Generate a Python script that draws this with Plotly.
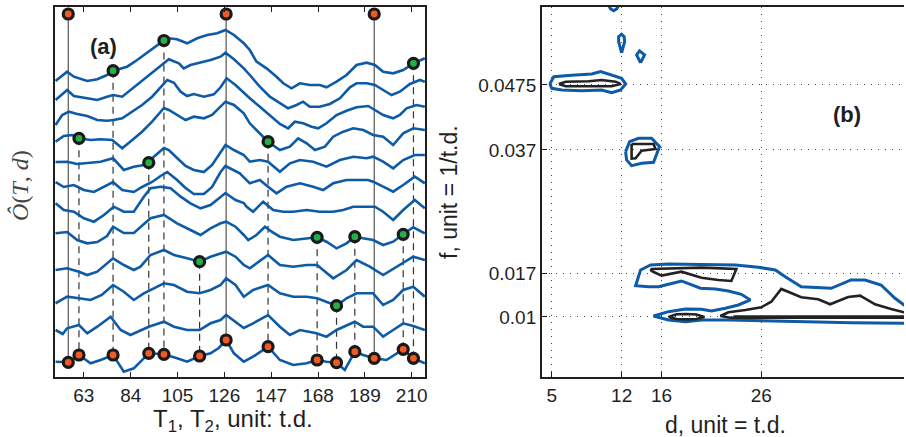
import plotly.graph_objects as go

# ---------------- panel (a): stacked series (T in t.d., V arbitrary units) ----------------
C1_T = [50.3, 55.5, 58.5, 64.5, 69.0, 73.4, 76.1, 82.4, 86.9, 92.9, 98.9, 101.1, 104.8, 109.3, 113.8, 118.3, 122.8, 126.5, 130.3, 134.7, 137.4, 140.4, 144.9, 149.4, 152.4, 156.1, 159.9, 164.3, 168.8, 171.8, 176.3, 180.8, 185.3, 189.8, 193.5, 197.2, 201.7, 206.2, 210.8, 215.9]
C1_V = [296, 305.3, 300.3, 296, 297.7, 302, 306.3, 310.3, 317, 327, 336.5, 338.7, 337.7, 333.7, 338.7, 342, 343.7, 347, 342, 333.7, 327, 315.3, 308.7, 300.3, 293.7, 288.7, 293.7, 292, 292, 289.7, 295.3, 302, 312, 314.3, 312, 305.3, 303.7, 307, 313.7, 318.7]

C2_T = [50.3, 55.5, 58.5, 64.5, 69.0, 73.4, 76.1, 80.2, 85.4, 91.4, 97.4, 101.1, 105.6, 107.8, 110.8, 115.3, 119.8, 124.3, 126.5, 130.3, 134.7, 137.4, 141.9, 146.4, 150.9, 154.6, 158.4, 161.3, 164.3, 168.8, 173.3, 177.8, 182.3, 185.3, 189.8, 193.5, 197.2, 201.0, 204.7, 209.2, 213.7, 215.9]
C2_V = [277, 287, 281, 278.7, 277, 280.3, 282, 280.3, 289.7, 301, 311, 317.7, 313.7, 308.7, 312, 314.3, 317, 320.3, 324.3, 317.7, 308.7, 302, 290.3, 280.3, 273.7, 268.7, 272, 275.3, 270.3, 270.3, 273, 278.7, 289.7, 293.7, 293.7, 292, 287, 282, 285.3, 293, 297, 295.3]

C3_T = [50.3, 53.3, 56.3, 60.0, 64.5, 69.0, 73.4, 76.4, 80.2, 84.7, 89.1, 93.6, 97.4, 100.4, 103.4, 106.4, 109.3, 112.3, 116.8, 121.3, 124.3, 127.0, 131.0, 134.7, 137.4, 141.9, 146.4, 150.9, 154.6, 157.6, 161.3, 165.1, 168.1, 171.8, 176.3, 180.8, 185.3, 190.5, 193.5, 197.2, 201.7, 204.7, 207.7, 212.2, 215.9]
C3_V = [252, 262, 265.3, 263, 261, 257, 256.3, 257, 258.7, 265.3, 272, 280.3, 289.7, 297, 294.3, 285.3, 281, 283, 280.3, 282.7, 289.7, 298.7, 292, 283.7, 278.7, 270.3, 262, 253, 248.7, 255.3, 253.7, 250.3, 248.7, 253.7, 262, 266.3, 269.7, 271, 267, 262, 258.7, 262, 268.7, 272, 270.3]

C4_T = [50.3, 54.0, 57.8, 60.8, 66.0, 70.5, 75.7, 80.2, 84.7, 89.1, 93.6, 98.9, 101.1, 104.8, 108.6, 112.3, 116.8, 120.5, 124.3, 126.5, 130.3, 134.7, 137.4, 141.9, 145.6, 150.9, 155.4, 159.1, 162.9, 166.6, 171.1, 174.8, 179.3, 183.8, 188.3, 192.7, 197.2, 201.7, 206.2, 210.7, 215.9]
C4_V = [235.3, 241, 242, 238.7, 237, 237.7, 237, 228.7, 237, 245.3, 255.3, 269, 267, 262, 257, 260.3, 258.7, 262, 270.3, 275.3, 272, 263.7, 253.7, 243.7, 235.3, 227, 230.3, 238.7, 233.7, 227, 230.3, 240.3, 245.3, 248.7, 247, 242, 240.3, 232, 243.7, 248.7, 247]

C5_T = [50.3, 55.5, 60.0, 64.5, 70.5, 76.1, 80.9, 85.4, 89.9, 92.1, 94.4, 98.9, 101.1, 104.8, 108.6, 112.3, 116.8, 120.5, 124.3, 126.5, 130.3, 134.7, 137.4, 141.9, 145.6, 150.9, 155.4, 159.9, 165.8, 171.8, 177.8, 183.8, 189.8, 192.7, 197.2, 201.7, 206.2, 211.4, 215.9]
C5_V = [215, 215.3, 213, 213.7, 215.3, 218.7, 207, 210.3, 212, 214.3, 220.3, 229, 227, 219, 211, 207, 205, 212, 225, 232, 227, 222, 215.3, 217, 215.3, 205.3, 213.7, 217, 215.3, 210.3, 217, 220.3, 218.7, 220.3, 215.3, 208.7, 217, 222, 222]

C6_T = [50.3, 54.0, 58.5, 63.0, 67.5, 72.0, 76.1, 80.2, 85.4, 89.1, 93.6, 97.4, 100.4, 104.8, 108.6, 112.3, 116.8, 120.5, 124.3, 126.5, 130.3, 132.9, 137.4, 141.9, 145.6, 149.4, 153.9, 159.9, 165.8, 170.3, 174.8, 180.8, 190.5, 192.7, 197.2, 201.7, 206.2, 211.4, 215.9]
C6_V = [195, 190, 192, 187, 185, 190, 195, 187, 185, 190, 195, 201, 205, 197, 189, 183, 183, 190, 205, 211, 207, 203.7, 193.7, 197, 190.3, 183.7, 190.3, 193.7, 190.3, 187, 193.7, 197, 197, 195.3, 190.3, 185.3, 192, 200.3, 193.7]

C7_T = [50.3, 54.0, 58.5, 63.0, 67.5, 72.0, 76.4, 80.9, 85.4, 89.9, 92.9, 97.4, 101.9, 106.4, 110.8, 115.3, 119.8, 124.3, 126.5, 131.0, 134.7, 136.0, 138.9, 143.4, 147.9, 152.4, 156.9, 162.9, 168.8, 174.8, 179.3, 183.8, 189.8, 193.5, 197.2, 201.7, 206.2, 211.4, 215.9]
C7_V = [173.7, 167, 165.3, 158.7, 155.3, 162, 170.3, 165.3, 165.3, 180.3, 188.7, 190.3, 188.7, 180.3, 173.7, 168.7, 172, 180.3, 184, 177, 174, 170.3, 165.3, 175.3, 167, 165.3, 165.3, 167, 165.3, 165.3, 167, 170.3, 170.3, 170.3, 165.3, 157, 167, 177, 168.7]

C8_T = [50.3, 55.5, 60.0, 64.5, 69.0, 73.4, 76.1, 80.9, 85.4, 89.1, 92.9, 98.9, 104.8, 110.8, 115.3, 119.8, 124.3, 126.8, 131.0, 134.7, 136.7, 140.4, 144.2, 147.2, 150.9, 156.9, 162.9, 167.6, 171.8, 176.3, 180.8, 184.5, 188.2, 192.7, 197.2, 201.7, 206.2, 210.7, 215.9]
C8_V = [143.7, 145, 137, 133.7, 135, 141, 150.3, 144, 144, 151, 158.7, 162, 153.7, 147, 142, 148.7, 153.7, 155.3, 150.3, 142, 137, 142, 150.3, 145.3, 140.3, 137, 138.7, 139.7, 135.3, 128.7, 133.7, 140.3, 138.7, 137, 132, 135.3, 142.7, 149.7, 143.7]

C9_T = [50.3, 55.5, 60.8, 64.5, 69.0, 76.1, 80.9, 85.4, 88.4, 92.9, 98.9, 103.4, 109.3, 114.9, 119.8, 126.8, 131.0, 134.7, 137.4, 145.6, 150.9, 156.9, 162.9, 167.6, 174.8, 180.8, 185.3, 191.2, 197.2, 203.2, 210.7, 215.9]
C9_V = [107, 108.7, 105.3, 102, 105.3, 118.7, 112, 107, 110.3, 122, 127, 122, 118.7, 115.3, 120.3, 125.3, 120.3, 112, 108.7, 122, 112, 110.3, 112, 112, 98.7, 107, 117, 110.3, 102, 110.3, 120.3, 117]

C10_T = [50.3, 55.5, 60.8, 66.0, 71.0, 76.1, 80.9, 85.4, 89.9, 92.9, 98.9, 103.4, 109.3, 114.9, 119.8, 124.3, 126.8, 131.0, 134.7, 138.9, 145.6, 150.9, 156.9, 162.9, 167.6, 176.3, 180.8, 185.3, 192.7, 197.2, 201.7, 206.2, 210.7, 215.9]
C10_V = [73.7, 80.3, 78.7, 77, 82, 92, 85.3, 77, 83.7, 87, 93.7, 92, 85.3, 83.7, 87, 92, 98.7, 92, 80.3, 87, 92, 83.7, 80.3, 80.3, 78.7, 71.3, 78.7, 83.7, 83.7, 72, 77, 87, 90.3, 80.3]

C11_T = [50.3, 53.5, 55.5, 60.8, 64.5, 69.0, 75.0, 79.5, 83.9, 88.4, 92.1, 98.9, 103.4, 109.3, 114.9, 119.8, 124.3, 126.8, 131.0, 134.7, 138.9, 145.6, 150.9, 155.4, 159.9, 167.3, 171.8, 176.3, 184.5, 188.2, 192.7, 197.2, 201.7, 206.2, 210.7, 215.9]
C11_V = [47, 43, 48.7, 52, 43.7, 50.3, 60.3, 47, 42, 47, 50.3, 55.3, 50.3, 47, 47, 53.7, 57, 62, 55, 49, 53.7, 62, 50.3, 42, 47, 43.7, 40.3, 47, 55.3, 50.3, 50.3, 40.3, 47, 53.7, 51, 47]

C12_T = [50.3, 56.0, 60.8, 66.0, 70.5, 76.1, 80.9, 85.4, 92.1, 98.9, 104.8, 109.3, 114.9, 119.8, 123.5, 126.8, 130.3, 134.7, 138.9, 145.6, 150.9, 156.9, 162.9, 167.6, 171.8, 176.3, 180.0, 184.5, 188.2, 193.2, 198.7, 206.2, 210.8, 215.9]
C12_V = [15.3, 14.7, 22, 13.7, 17, 22, 5.3, 8.7, 23.7, 22.7, 18.7, 15.3, 21, 23.7, 29, 37, 23.7, 15.3, 20.3, 30.3, 17, 12, 13.7, 17, 15.3, 14.3, 7, 25.3, 22, 18.7, 17, 27.7, 18.7, 13.7]

CURVES = [(C1_T, C1_V), (C2_T, C2_V), (C3_T, C3_V), (C4_T, C4_V), (C5_T, C5_V), (C6_T, C6_V),
          (C7_T, C7_V), (C8_T, C8_V), (C9_T, C9_V), (C10_T, C10_V), (C11_T, C11_V), (C12_T, C12_V)]

# detected times (markers on the bottom series)
ORANGE_T = [56.0, 60.8, 76.1, 92.1, 98.9, 114.9, 126.8, 145.6, 167.6, 176.3, 184.5, 193.2, 206.2, 210.8]
ORANGE_V = [14.7, 22, 22, 23.7, 22.7, 21, 37, 30.3, 17, 14.3, 25.3, 18.7, 27.7, 18.7]
# T1 (solid) times, marked at the top
TOP_T = [56.0, 126.8, 193.2]
TOP_V = [363, 363, 363]
# T2 (dashed) times, marked on the series where they appear
GREEN_T = [60.8, 76.1, 92.1, 98.9, 114.9, 145.6, 167.6, 176.3, 184.5, 206.2, 210.8]
GREEN_V = [238.7, 306.3, 214.3, 336.5, 115.3, 235.3, 139.7, 71.3, 140.3, 142.7, 313.7]

# ---------------- panel (b): contour paths (d, f) ----------------
BLUE_CAP_D = [10.6, 10.9, 11.2, 11.5, 11.8]
BLUE_CAP_F = [0.0606, 0.0598, 0.0595, 0.0598, 0.0606]
BLUE_DROP1_D = [12.0, 11.7, 11.7, 12.0, 12.25, 12.3, 12.0]
BLUE_DROP1_F = [0.0527, 0.0545, 0.0553, 0.0557, 0.0553, 0.0545, 0.0527]
BLUE_DROP2_D = [13.9, 13.5, 13.8, 14.3, 13.9]
BLUE_DROP2_F = [0.0511, 0.05235, 0.0530, 0.05235, 0.0511]
BLUE_A_D = [4.8, 5.2, 7.0, 9.0, 9.9, 11.0, 12.0, 12.4, 11.9, 11.0, 10.0, 8.0, 6.0, 5.0, 4.8]
BLUE_A_F = [0.04766, 0.04884, 0.04907, 0.04928, 0.04965, 0.04911, 0.04858, 0.04766, 0.04669, 0.04625, 0.04669, 0.04658, 0.04669, 0.04696, 0.04766]
BLACK_A_D = [5.7, 6.4, 8.7, 10.0, 11.4, 11.9, 11.0, 8.7, 6.4, 5.7]
BLACK_A_F = [0.04766, 0.04803, 0.0481, 0.04831, 0.04803, 0.04766, 0.04729, 0.04729, 0.04729, 0.04766]
BLUE_B_D = [12.4, 12.8, 13.7, 15.0, 15.8, 15.2, 14.0, 13.0, 12.5, 12.4]
BLUE_B_F = [0.03672, 0.03833, 0.03888, 0.03888, 0.03753, 0.0350, 0.03484, 0.03446, 0.03538, 0.03672]
BLACK_B_D = [13.0, 15.2, 15.4, 14.0, 13.4, 13.0, 13.0]
BLACK_B_F = [0.03796, 0.03796, 0.03715, 0.03688, 0.03565, 0.03559, 0.03796]
BLUE_C_D = [41.0, 40.3, 35.0, 28.4, 22.7, 20.0, 18.4, 16.7, 15.2, 16.7, 18.4, 20.0, 21.0, 22.4, 23.7, 24.9, 24.0, 22.7, 21.4, 19.9, 18.0, 16.7, 15.7, 14.7, 13.4, 13.9, 14.9, 16.7, 20.0, 23.4, 25.7, 27.4, 28.4, 30.0, 33.0, 35.0, 36.4, 38.0, 39.4, 40.3, 41.0]
BLUE_C_F = [0.00895, 0.00898, 0.00908, 0.00935, 0.00952, 0.00952, 0.00924, 0.00952, 0.01016, 0.01086, 0.01129, 0.01124, 0.01097, 0.01141, 0.01194, 0.01275, 0.01367, 0.0142, 0.01453, 0.01464, 0.01582, 0.01529, 0.0149, 0.0149, 0.01506, 0.0176, 0.0184, 0.01857, 0.01852, 0.0184, 0.01803, 0.0176, 0.01651, 0.0149, 0.01464, 0.01598, 0.01598, 0.01517, 0.01302, 0.01194, 0.0113]
BLACK_C_D = [14.9, 16.7, 20.0, 23.5, 23.0, 21.7, 20.0, 18.0, 17.0, 16.0, 15.0, 14.9]
BLACK_C_F = [0.01776, 0.01787, 0.01797, 0.01776, 0.01582, 0.01598, 0.01635, 0.01732, 0.01706, 0.01668, 0.01744, 0.01776]
BLACK_D_D = [16.7, 17.5, 18.5, 19.5, 20.3, 19.5, 18.5, 17.5, 16.7]
BLACK_D_F = [0.0100, 0.01044, 0.01048, 0.0104, 0.0100, 0.00968, 0.00962, 0.00968, 0.0100]
BLACK_E_D = [41.0, 40.3, 39.0, 37.4, 35.9, 34.7, 32.9, 31.7, 30.0, 28.0, 27.0, 26.0, 24.4, 22.7, 21.9, 22.9, 41.0]
BLACK_E_F = [0.0106, 0.01076, 0.01129, 0.01205, 0.01344, 0.01323, 0.01205, 0.01286, 0.01318, 0.01453, 0.01247, 0.01157, 0.01113, 0.01076, 0.01016, 0.00988, 0.00988]
BLACK_E2_D = [23.2, 41.0]
BLACK_E2_F = [0.01008, 0.01008]

BLUE_PATHS = [(BLUE_CAP_D, BLUE_CAP_F), (BLUE_DROP1_D, BLUE_DROP1_F), (BLUE_DROP2_D, BLUE_DROP2_F),
              (BLUE_A_D, BLUE_A_F), (BLUE_B_D, BLUE_B_F), (BLUE_C_D, BLUE_C_F)]
BLACK_PATHS = [(BLACK_A_D, BLACK_A_F), (BLACK_B_D, BLACK_B_F), (BLACK_C_D, BLACK_C_F),
               (BLACK_D_D, BLACK_D_F), (BLACK_E_D, BLACK_E_F), (BLACK_E2_D, BLACK_E2_F)]

A_TICKS = [63, 84, 105, 126, 147, 168, 189, 210]
B_XTICKS = [5, 12, 16, 26]
B_YTICKS = [0.01, 0.017, 0.037, 0.0475]
B_YTICK_TEXT = ["0.01", "0.017", "0.037", "0.0475"]

# ---------------- styling ----------------
BLUE = "#0d5aa7"
INK = "#1f1f1f"
ORANGE = "#f15a24"
GREEN = "#23b04a"
FONT = "Liberation Sans, Arial, sans-serif"
W, H = 906, 437

fig = go.Figure()

def bottom_v(t):
    return ORANGE_V[ORANGE_T.index(t)]

sx, sy = [], []
for t, v in zip(TOP_T, TOP_V):
    sx += [t, t, None]
    sy += [v, bottom_v(t), None]
fig.add_trace(go.Scatter(x=sx, y=sy, mode="lines", line=dict(color="#555555", width=1.2),
                         hoverinfo="skip", showlegend=False, xaxis="x", yaxis="y"))
dx, dy = [], []
for t, v in zip(GREEN_T, GREEN_V):
    dx += [t, t, None]
    dy += [v, bottom_v(t), None]
fig.add_trace(go.Scatter(x=dx, y=dy, mode="lines", line=dict(color="#333333", width=1.2, dash="7px,5px"),
                         hoverinfo="skip", showlegend=False, xaxis="x", yaxis="y"))

for tt, vv in CURVES:
    fig.add_trace(go.Scatter(x=tt, y=vv, mode="lines", line=dict(color=BLUE, width=2.6),
                             showlegend=False, xaxis="x", yaxis="y"))

mk = dict(size=10, line=dict(color="#1a1a1a", width=3.2))
fig.add_trace(go.Scatter(x=ORANGE_T, y=ORANGE_V, mode="markers", marker=dict(color=ORANGE, **mk),
                         showlegend=False, xaxis="x", yaxis="y", cliponaxis=False))
fig.add_trace(go.Scatter(x=TOP_T, y=TOP_V, mode="markers", marker=dict(color=ORANGE, **mk),
                         showlegend=False, xaxis="x", yaxis="y", cliponaxis=False))
fig.add_trace(go.Scatter(x=GREEN_T, y=GREEN_V, mode="markers", marker=dict(color=GREEN, **mk),
                         showlegend=False, xaxis="x", yaxis="y", cliponaxis=False))

for d, f in BLUE_PATHS:
    fig.add_trace(go.Scatter(x=d, y=f, mode="lines", line=dict(color=BLUE, width=3),
                             showlegend=False, xaxis="x2", yaxis="y2"))
for d, f in BLACK_PATHS:
    fig.add_trace(go.Scatter(x=d, y=f, mode="lines", line=dict(color="#222222", width=2.6),
                             showlegend=False, xaxis="x2", yaxis="y2"))

ya_dom = [(H - 377) / H, (H - 7) / H]
axis_common = dict(showline=True, linecolor=INK, linewidth=1.5, zeroline=False,
                   tickfont=dict(family=FONT, size=19, color=INK), ticks="inside",
                   ticklen=5, tickcolor=INK, tickwidth=1)

fig.update_layout(
    width=W, height=H, margin=dict(l=0, r=0, t=0, b=0),
    paper_bgcolor="white", plot_bgcolor="white",
    xaxis=dict(domain=[55 / W, 426 / W], range=[50, 216], tickvals=A_TICKS, mirror="ticks",
               showgrid=False, anchor="y", **axis_common),
    yaxis=dict(domain=ya_dom, range=[0, 370], showticklabels=False, mirror=True, showgrid=False,
               showline=True, linecolor=INK, linewidth=1.5, zeroline=False, ticks="", anchor="x"),
    xaxis2=dict(domain=[543 / W, 1.0], range=[4, 40.3], tickvals=B_XTICKS, mirror=True,
                showgrid=True, gridcolor="#444444", gridwidth=1, griddash="1px,6px", anchor="y2",
                **axis_common),
    yaxis2=dict(domain=ya_dom, range=[0.0003, 0.0601], tickvals=B_YTICKS, ticktext=B_YTICK_TEXT,
                mirror=False, showgrid=True, gridcolor="#444444", gridwidth=1, griddash="1px,6px",
                anchor="x2", **axis_common),
)

def label(text, x, y, size, angle=0, bold=False, family=FONT, color=INK):
    fig.add_annotation(text=f"<b>{text}</b>" if bold else text, x=x / W, y=1 - y / H,
                       xref="paper", yref="paper", showarrow=False, textangle=angle,
                       xanchor="center", yanchor="middle",
                       font=dict(family=family, size=size, color=color))

label("(a)", 104, 46, 22, bold=True)
label("(b)", 849, 115, 22, bold=True)
label("T<sub>1</sub>, T<sub>2</sub>, unit: t.d.", 234, 420, 24)
label("d, unit = t.d.", 727, 425, 23)
label("f, unit = 1/t.d.", 450, 192, 23, angle=-90)
label("<i>Ô</i>(<i>T</i>, <i>d</i>)", 20, 185, 24, angle=-90,
      family="Liberation Serif, DejaVu Serif, serif", color="#444444")

fig.write_html("out.html")
